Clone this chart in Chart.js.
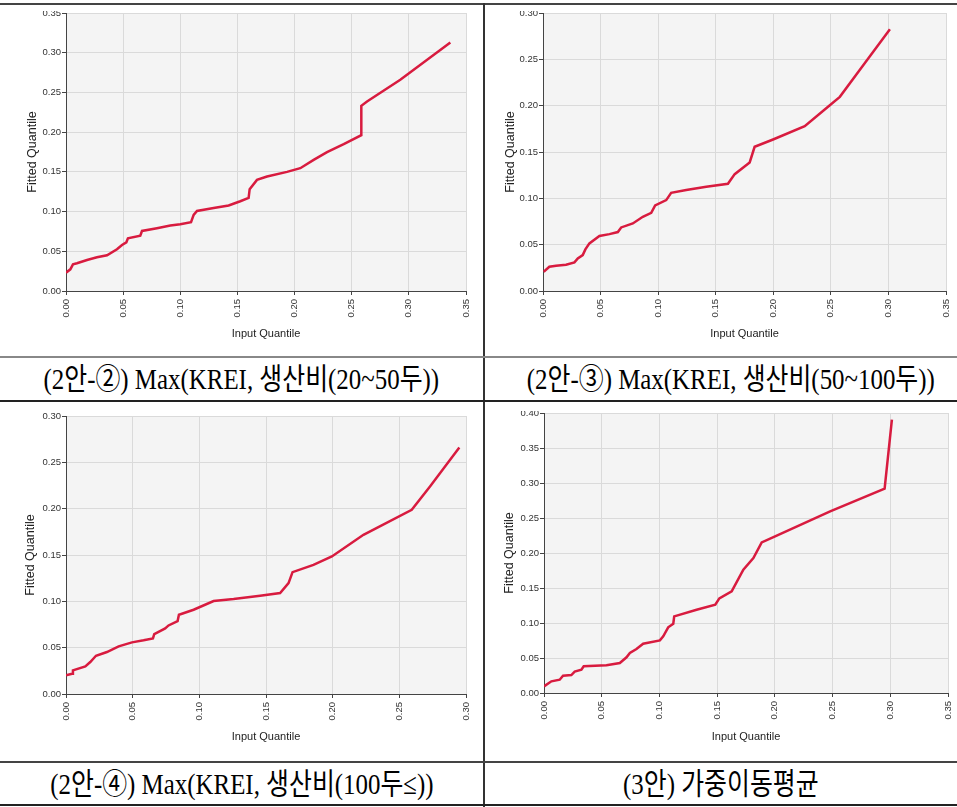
<!DOCTYPE html>
<html lang="ko">
<head>
<meta charset="utf-8">
<title>Q-Q plots</title>
<script src="https://cdn.jsdelivr.net/npm/chart.js@4.4.1/dist/chart.umd.min.js"></script>
<style>
  html, body { margin: 0; padding: 0; background: #fff; }
  #page { position: relative; width: 957px; height: 807px; overflow: hidden; }
  .rule { position: absolute; }
  .plot { position: absolute; }
  .caption {
    position: absolute;
    text-align: center;
    white-space: nowrap;
    font-family: "Liberation Serif", "Noto Sans CJK KR", serif;
    font-size: 30px;
    color: #000;
  }
  .caption span { display: inline-block; transform: scaleX(0.83); transform-origin: center; }
</style>
</head>
<body>
<div id="page">
  <!-- table rules -->
  <div class="rule" style="left:0;top:3px;width:957px;height:2px;background:#444"></div>
  <div class="rule" style="left:483px;top:3px;width:2px;height:804px;background:#333"></div>
  <div class="rule" style="left:0;top:356px;width:957px;height:2px;background:#888"></div>
  <div class="rule" style="left:0;top:400px;width:957px;height:2px;background:#222"></div>
  <div class="rule" style="left:0;top:761px;width:957px;height:2px;background:#444"></div>
  <div class="rule" style="left:0;top:804px;width:957px;height:2px;background:#222"></div>

  <canvas id="c1" class="plot"></canvas>
  <canvas id="c2" class="plot"></canvas>
  <canvas id="c3" class="plot"></canvas>
  <canvas id="c4" class="plot"></canvas>

  <div class="caption" id="cap1"></div>
  <div class="caption" id="cap2"></div>
  <div class="caption" id="cap3"></div>
  <div class="caption" id="cap4"></div>
</div>

<script>
// (2안-②) 20~50두
const q1x = [0, 0.0038, 0.0061, 0.0096, 0.0184, 0.0271, 0.0359, 0.0446, 0.049, 0.0528, 0.0542, 0.065, 0.0665, 0.0796, 0.0913, 0.1, 0.1094, 0.1117, 0.1146, 0.1292, 0.1423, 0.1525, 0.1598, 0.1607, 0.1671, 0.1759, 0.1934, 0.205, 0.2167, 0.2284, 0.243, 0.2584, 0.2584, 0.2634, 0.2925, 0.3363];
const q1y = [0.0231, 0.0273, 0.0336, 0.0349, 0.0391, 0.0424, 0.045, 0.0525, 0.058, 0.0613, 0.0664, 0.0697, 0.0756, 0.079, 0.0824, 0.084, 0.0866, 0.0958, 0.1008, 0.1046, 0.1076, 0.113, 0.1172, 0.1282, 0.1399, 0.1441, 0.15, 0.1546, 0.1651, 0.1748, 0.1849, 0.1962, 0.2332, 0.2387, 0.266, 0.313];

// (2안-③) 50~100두
const q2x = [0.0006, 0.0055, 0.0113, 0.02, 0.0273, 0.0302, 0.0345, 0.0368, 0.0403, 0.049, 0.0577, 0.065, 0.0679, 0.078, 0.0867, 0.094, 0.0974, 0.107, 0.1113, 0.1244, 0.1418, 0.1606, 0.1665, 0.1795, 0.1838, 0.1998, 0.2273, 0.2491, 0.2578, 0.2781, 0.3013];
const q2y = [0.0208, 0.0262, 0.0273, 0.0284, 0.0309, 0.0352, 0.0388, 0.0449, 0.0514, 0.0593, 0.0614, 0.0636, 0.0686, 0.0729, 0.0801, 0.0844, 0.0923, 0.0981, 0.106, 0.1089, 0.1125, 0.1157, 0.1261, 0.1387, 0.1556, 0.1635, 0.1779, 0.2005, 0.2095, 0.2436, 0.2824];

// (2안-④) 100두 이상
const q3x = [0, 0.0045, 0.0052, 0.0145, 0.0182, 0.0225, 0.0307, 0.0395, 0.0495, 0.0582, 0.0652, 0.0662, 0.0744, 0.0769, 0.0837, 0.0847, 0.0957, 0.1107, 0.1257, 0.1456, 0.1606, 0.1669, 0.1699, 0.1856, 0.1994, 0.2231, 0.2593, 0.273, 0.295];
const q3y = [0.0201, 0.0219, 0.0255, 0.0298, 0.0345, 0.0413, 0.0453, 0.0514, 0.0557, 0.0579, 0.06, 0.0647, 0.0708, 0.074, 0.0787, 0.0855, 0.0909, 0.1003, 0.1024, 0.106, 0.1089, 0.1197, 0.1315, 0.1394, 0.1484, 0.1718, 0.1987, 0.2239, 0.2659];

// (3안) 가중이동평균
const q4x = [0, 0.0064, 0.0136, 0.0165, 0.0237, 0.0266, 0.0324, 0.0344, 0.0541, 0.0657, 0.0715, 0.0744, 0.0801, 0.0859, 0.1004, 0.1033, 0.1076, 0.112, 0.1128, 0.1322, 0.1484, 0.1519, 0.1626, 0.1727, 0.1814, 0.1886, 0.2002, 0.2479, 0.2951, 0.3014];
const q4y = [0.0095, 0.0167, 0.019, 0.0248, 0.0257, 0.0305, 0.0333, 0.0381, 0.0395, 0.0429, 0.051, 0.0571, 0.0629, 0.0705, 0.0752, 0.081, 0.0938, 0.099, 0.1095, 0.119, 0.1262, 0.1352, 0.1452, 0.1762, 0.1929, 0.2152, 0.2238, 0.2595, 0.2919, 0.3905];

const xMaxes = [0.35, 0.35, 0.30, 0.35];
const yMaxes = [0.35, 0.30, 0.30, 0.40];
const tickStep = 0.05;

const captions = [
    '(2안-②) Max(KREI, 생산비(20~50두))',
    '(2안-③) Max(KREI, 생산비(50~100두))',
    '(2안-④) Max(KREI, 생산비(100두≤))',
    '(3안) 가중이동평균'
];

const xTitle = 'Input Quantile';
const yTitle = 'Fitted Quantile';

// where each plot and caption sits in the table
const boxes = [
    { left: 0,   top: 11,  w: 480, h: 337, pad: { top: 2,  right: 14, bottom: 0, left: 0 }, yW: 66, xH: 57, yTitlePad: 25, xTitlePad: 7 },
    { left: 485, top: 11,  w: 472, h: 337, pad: { top: 2,  right: 11, bottom: 0, left: 0 }, yW: 58, xH: 57, yTitlePad: 18, xTitlePad: 7 },
    { left: 0,   top: 402, w: 480, h: 358, pad: { top: 14, right: 14, bottom: 0, left: 0 }, yW: 66, xH: 66, yTitlePad: 23, xTitlePad: 16 },
    { left: 485, top: 411, w: 472, h: 349, pad: { top: 2,  right: 9,  bottom: 0, left: 0 }, yW: 59, xH: 67, yTitlePad: 17, xTitlePad: 16 }
];
const capBoxes = [
    { left: 0,   top: 358, w: 483, h: 42 },
    { left: 485, top: 358, w: 472, h: 42 },
    { left: 0,   top: 763, w: 483, h: 41 },
    { left: 485, top: 763, w: 472, h: 41 }
];

const LINE_RED = '#d81b3f';
const PLOT_BG = '#f4f4f4';
const GRID = '#dadada';
const AXIS = '#444';
const TICK_FONT = { family: '"Liberation Sans", Arial, sans-serif', size: 9.5 };
const X_TITLE_FONT = { family: '"Liberation Sans", Arial, sans-serif', size: 11 };
const Y_TITLE_FONT = { family: '"Liberation Sans", Arial, sans-serif', size: 12.5 };

// grey fill behind the plotting area
const plotBg = {
    id: 'plotBg',
    beforeDraw(chart) {
        const a = chart.chartArea;
        const ctx = chart.ctx;
        ctx.save();
        ctx.fillStyle = PLOT_BG;
        ctx.fillRect(a.left, a.top, a.right - a.left, a.bottom - a.top);
        ctx.restore();
    }
};

function toPoints(xs, ys) {
    return xs.map((x, i) => ({ x: x, y: ys[i] }));
}

function makeChart(id, xs, ys, xMax, yMax, box) {
    const canvas = document.getElementById(id);
    canvas.width = box.w;
    canvas.height = box.h;
    canvas.style.left = box.left + 'px';
    canvas.style.top = box.top + 'px';

    return new Chart(canvas.getContext('2d'), {
        type: 'scatter',
        plugins: [plotBg],
        data: {
            datasets: [{
                data: toPoints(xs, ys),
                showLine: true,
                borderColor: LINE_RED,
                borderWidth: 2.5,
                pointRadius: 0,
                tension: 0
            }]
        },
        options: {
            responsive: false,
            animation: false,
            events: [],
            layout: { padding: box.pad },
            plugins: { legend: { display: false }, tooltip: { enabled: false } },
            scales: {
                x: {
                    type: 'linear',
                    min: 0,
                    max: xMax,
                    border: { color: AXIS, width: 1 },
                    grid: { color: GRID, tickColor: AXIS, tickLength: 4 },
                    ticks: {
                        stepSize: tickStep,
                        autoSkip: false,
                        minRotation: 90,
                        maxRotation: 90,
                        padding: 4,
                        color: '#333',
                        font: TICK_FONT,
                        callback: v => v.toFixed(2)
                    },
                    title: { display: true, text: xTitle, color: '#222', font: X_TITLE_FONT, padding: { top: 0, bottom: box.xTitlePad } },
                    afterFit: s => { s.height = box.xH; s.paddingLeft = 0; s.paddingRight = 0; }
                },
                y: {
                    type: 'linear',
                    min: 0,
                    max: yMax,
                    border: { color: AXIS, width: 1 },
                    grid: { color: GRID, tickColor: AXIS, tickLength: 4 },
                    ticks: {
                        stepSize: tickStep,
                        autoSkip: false,
                        padding: 1,
                        color: '#333',
                        font: TICK_FONT,
                        callback: v => v.toFixed(2)
                    },
                    title: { display: true, text: yTitle, color: '#222', font: Y_TITLE_FONT, padding: { top: box.yTitlePad, bottom: 0 } },
                    afterFit: s => { s.width = box.yW; s.paddingTop = 0; s.paddingBottom = 0; }
                }
            }
        }
    });
}

const series = [[q1x, q1y], [q2x, q2y], [q3x, q3y], [q4x, q4y]];
series.forEach((s, i) => {
    makeChart('c' + (i + 1), s[0], s[1], xMaxes[i], yMaxes[i], boxes[i]);
});

captions.forEach((text, i) => {
    const el = document.getElementById('cap' + (i + 1));
    const b = capBoxes[i];
    el.style.left = b.left + 'px';
    el.style.top = b.top + 'px';
    el.style.width = b.w + 'px';
    el.style.height = b.h + 'px';
    el.style.lineHeight = b.h + 'px';
    const span = document.createElement('span');
    span.textContent = text;
    el.appendChild(span);
});
</script>
</body>
</html>
